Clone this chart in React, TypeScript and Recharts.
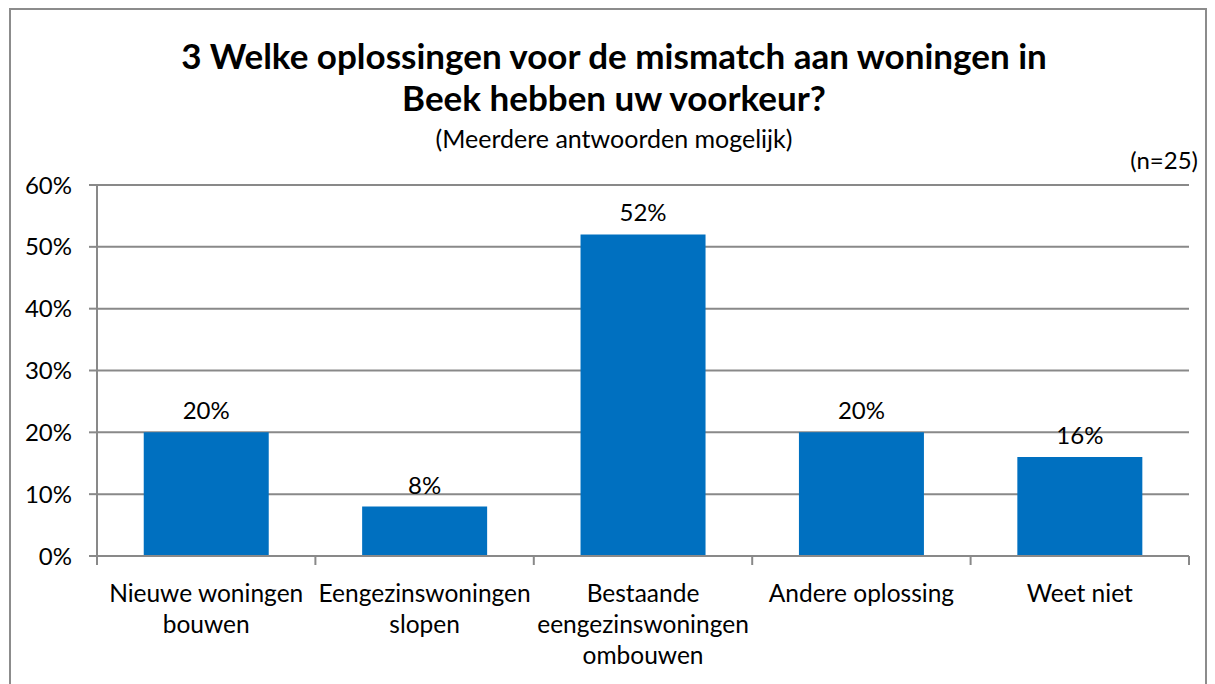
import React from 'react';
import { BarChart, Bar, XAxis, YAxis, CartesianGrid, LabelList } from 'recharts';

// Survey question 3, n=25
const CATEGORIES = [
  'Nieuwe woningen\nbouwen',
  'Eengezinswoningen\nslopen',
  'Bestaande\neengezinswoningen\nombouwen',
  'Andere oplossing',
  'Weet niet',
];
const SHARES = [0.2, 0.08, 0.52, 0.2, 0.16];
const Y_TICKS = [0, 0.1, 0.2, 0.3, 0.4, 0.5, 0.6];

const TITLE_LINES = ['3 Welke oplossingen voor de mismatch aan woningen in', 'Beek hebben uw voorkeur?'];
const SUBTITLE = '(Meerdere antwoorden mogelijk)';
const N_NOTE = '(n=25)';

const data = CATEGORIES.map((name, i) => ({ name, value: SHARES[i] }));

const FONT = 'Lato, "Open Sans", sans-serif';
const AXIS_GRAY = '#898989';
const BAR_BLUE = '#0070C0';

const pct = (v: number) => `${Math.round(v * 100)}%`;

// x-axis tick: label in the middle, tick marks on the category boundaries (Excel style)
const CategoryTick = (props: any) => {
  const { x, y, payload, width, index, visibleTicksCount } = props;
  const band = width / CATEGORIES.length;
  const lines = String(payload.value).split('\n');
  const last = index === (visibleTicksCount ?? CATEGORIES.length) - 1;
  return (
    <g>
      <line x1={x - band / 2} x2={x - band / 2} y1={y} y2={y + 9} stroke={AXIS_GRAY} strokeWidth={2} />
      {last && <line x1={x + band / 2} x2={x + band / 2} y1={y} y2={y + 9} stroke={AXIS_GRAY} strokeWidth={2} />}
      <text x={x} y={y} textAnchor="middle" fontFamily={FONT} fontSize={24.5} fill="#000">
        {lines.map((l, i) => (
          <tspan key={i} x={x} y={y + 36 + i * 31} dominantBaseline="central">{l}</tspan>
        ))}
      </text>
    </g>
  );
};

export default function App() {
  return (
    <div style={{ position: 'fixed', left: 0, top: 0, width: 1215, height: 684, background: '#fff', fontFamily: FONT }}>
      <div style={{ position: 'absolute', left: 9, top: 8, width: 1198, height: 700, border: '2px solid #8c8c8c', boxSizing: 'border-box' }} />
      <div style={{ position: 'absolute', left: 0, width: 1228, top: 34, textAlign: 'center', fontWeight: 700, fontSize: 35, lineHeight: '42px', color: '#000' }}>
        {TITLE_LINES.map((t, i) => <div key={i}>{t}</div>)}
      </div>
      <div style={{ position: 'absolute', left: 0, width: 1228, top: 124, textAlign: 'center', fontSize: 25, lineHeight: '28px' }}>{SUBTITLE}</div>
      <div style={{ position: 'absolute', right: 17, top: 146, fontSize: 24, lineHeight: '28px' }}>{N_NOTE}</div>
      <div style={{ position: 'absolute', left: 0, top: 0 }}>
        <BarChart width={1215} height={684} data={data} margin={{ top: 185, right: 26, left: 0, bottom: 28 }} barCategoryGap="21.4%">
          <CartesianGrid vertical={false} stroke={AXIS_GRAY} strokeWidth={2} />
          <YAxis
            width={97}
            domain={[0, 0.6]}
            ticks={Y_TICKS}
            tickFormatter={pct}
            tickSize={8}
            tickMargin={17}
            tickLine={{ stroke: AXIS_GRAY, strokeWidth: 2 }}
            axisLine={{ stroke: AXIS_GRAY, strokeWidth: 2 }}
            tick={{ fill: '#000', fontSize: 24, fontFamily: FONT }}
            interval={0}
          />
          <XAxis
            dataKey="name"
            height={100}
            interval={0}
            tickLine={false}
            tickSize={0}
            tickMargin={0}
            axisLine={{ stroke: AXIS_GRAY, strokeWidth: 2 }}
            tick={<CategoryTick />}
          />
          <Bar dataKey="value" fill={BAR_BLUE} isAnimationActive={false}>
            <LabelList dataKey="value" position="top" offset={13} formatter={(v: any) => pct(Number(v))} fill="#000" fontSize={24} fontFamily={FONT} />
          </Bar>
        </BarChart>
      </div>
    </div>
  );
}
